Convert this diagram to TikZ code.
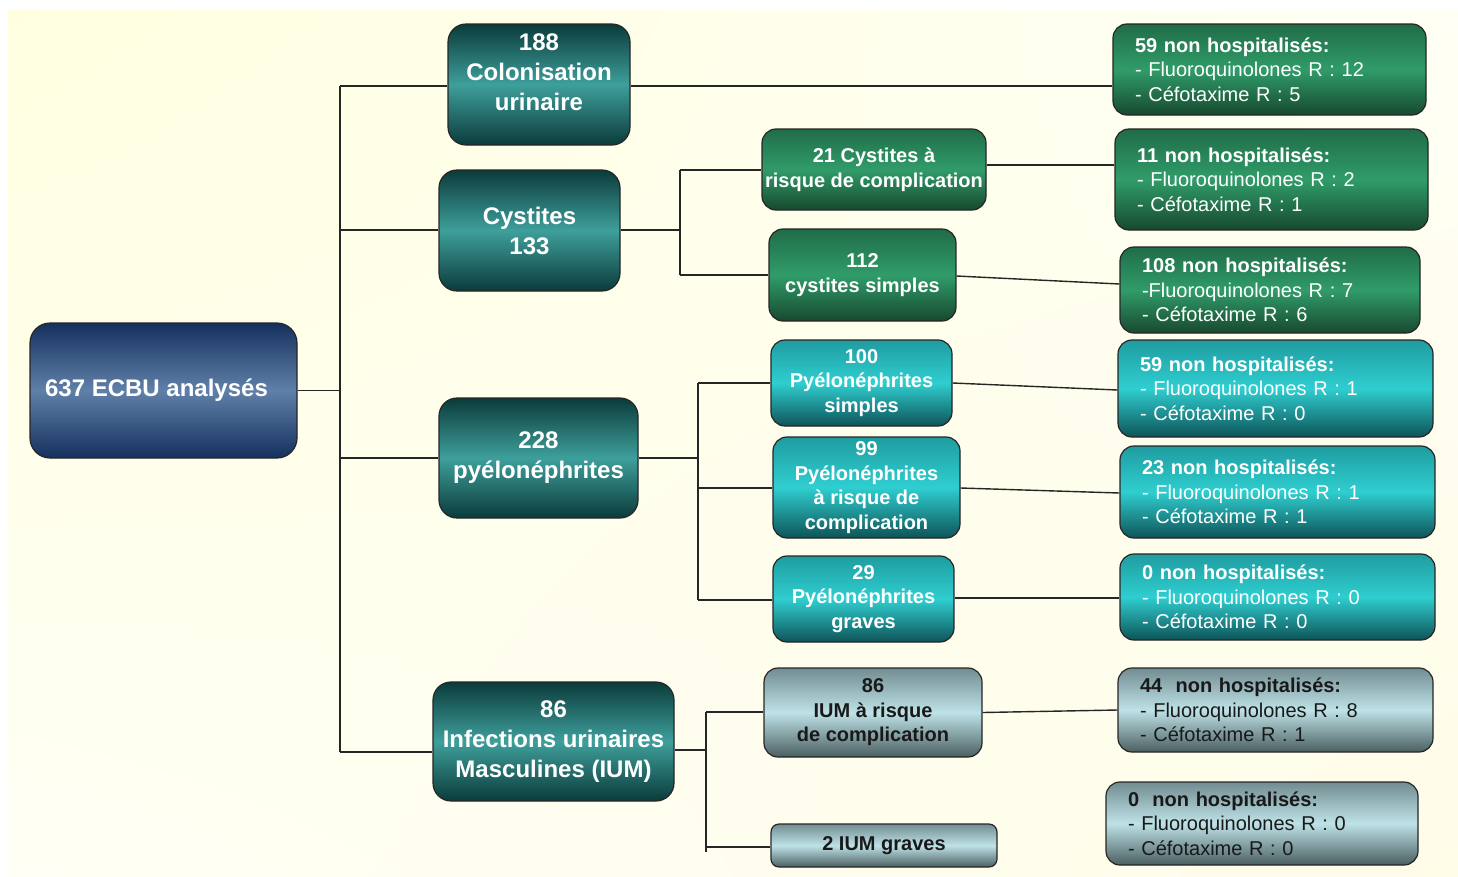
\documentclass[tikz,border=0pt]{standalone}
\usepackage{fontspec}
\usetikzlibrary{shadings}
\setmainfont{Liberation Sans}
\definecolor{navyD}{HTML}{15305E}
\definecolor{navyL}{HTML}{5F80A8}
\definecolor{tealD}{HTML}{0B3B3B}
\definecolor{tealL}{HTML}{3E9F9B}
\definecolor{grnD}{HTML}{17492F}
\definecolor{grnT}{HTML}{206C48}
\definecolor{grnL}{HTML}{309C69}
\definecolor{cyT}{HTML}{1F9CA0}
\definecolor{cyL}{HTML}{2FCED0}
\definecolor{cyD}{HTML}{0E5458}
\definecolor{gyT}{HTML}{728D91}
\definecolor{gyL}{HTML}{BEE2E7}
\definecolor{gyD}{HTML}{4B5F61}
\definecolor{bgA}{HTML}{FFFFE0}
\definecolor{bgB}{HTML}{FFFFF5}
\definecolor{bgC}{HTML}{FFFDE8}
\begin{document}
\begin{tikzpicture}[x=1pt,y=-1pt,
  box/.style={draw=black!85, line width=1.2pt, rounded corners=14pt, inner sep=0pt, align=center},
  navybox/.style={box, top color=navyD, bottom color=navyD, middle color=navyL, text=white, rounded corners=20pt,
    font=\fontsize{24}{30}\selectfont\bfseries},
  l1/.style={box, top color=tealD, bottom color=tealD, middle color=tealL, text=white, rounded corners=18pt,
    font=\fontsize{24}{30}\selectfont\bfseries},
  greenbox/.style={box, top color=grnT, bottom color=grnD, middle color=grnL, text=white},
  cyanbox/.style={box, top color=cyT, bottom color=cyD, middle color=cyL, text=white},
  graybox/.style={box, top color=gyT, bottom color=gyD, middle color=gyL, text=black!90},
  mid/.style={font=\fontsize{20}{24.5}\selectfont\bfseries},
  res/.style={align=left, inner xsep=22pt, inner ysep=0pt, font=\fontsize{20}{24.3}\selectfont},
  conn/.style={draw=black!85, line width=1.4pt}
]
\useasboundingbox (0,0) rectangle (1458,876);
\fill[white] (0,0) rectangle (1458,876);
\shade[upper left=bgA, upper right=bgB, lower left=bgB, lower right=bgC] (8,10) rectangle (1458,876);

% root and level 1
\node[navybox, minimum width=267pt, minimum height=135pt] (root) at (163.5,390.5) {637 ECBU analysés\hspace*{14pt}};
\node[l1, minimum width=182pt, minimum height=121pt] (col) at (539,84.5) {};
\node[text=white, font=\fontsize{24}{30}\selectfont\bfseries, align=center, inner sep=0pt] (colt) at (539,72) {188\\Colonisation\\urinaire};
\node[l1, minimum width=181pt, minimum height=121pt] (cyst) at (529.5,230.5) {Cystites\\133};
\node[l1, minimum width=199pt, minimum height=120pt] (pyelo) at (538.5,458) {228\\pyélonéphrites};
\node[l1, minimum width=241pt, minimum height=119pt] (ium) at (553.5,741.5) {86\\Infections urinaires\\Masculines (IUM)};

% level 2
\node[greenbox, mid, minimum width=224pt, minimum height=81pt] (cc) at (874,169.5) {21 Cystites à\\risque de complication};
\node[greenbox, mid, minimum width=187pt, minimum height=92pt] (cs) at (862.5,275) {112\\cystites simples};
\node[cyanbox, mid, minimum width=181pt, minimum height=86pt] (ps) at (861.5,383) {100\\Pyélonéphrites\\simples};
\node[cyanbox, mid, minimum width=187pt, minimum height=101pt] (pc) at (866.5,487.5) {99\\Pyélonéphrites\\à risque de\\complication};
\node[cyanbox, mid, minimum width=181pt, minimum height=86pt] (pg) at (863.5,599) {29\\Pyélonéphrites\\graves};
\node[graybox, mid, minimum width=218pt, minimum height=89pt] (ic) at (873,712.5) {86\\IUM à risque\\de complication};
\node[graybox, mid, minimum width=226pt, minimum height=43pt, rounded corners=8pt] (ig) at (884,845.5) {2 IUM graves};

% results
\node[greenbox, res, text width=269pt, minimum height=91pt] (r1) at (1269.5,69.5) {\textbf{59 non hospitalisés:}\\- Fluoroquinolones R : 12\\- Céfotaxime R : 5};
\node[greenbox, res, text width=269pt, minimum height=101pt] (r2) at (1271.5,179.5) {\textbf{11 non hospitalisés:}\\- Fluoroquinolones R : 2\\- Céfotaxime R : 1};
\node[greenbox, res, text width=256pt, minimum height=86pt] (r3) at (1270,290) {\textbf{108 non hospitalisés:}\\-Fluoroquinolones R : 7\\- Céfotaxime R : 6};
\node[cyanbox, res, text width=271pt, minimum height=97pt] (r4) at (1275.5,388.5) {\textbf{59 non hospitalisés:}\\- Fluoroquinolones R : 1\\- Céfotaxime R : 0};
\node[cyanbox, res, text width=271pt, minimum height=92pt] (r5) at (1277.5,492) {\textbf{23 non hospitalisés:}\\- Fluoroquinolones R : 1\\- Céfotaxime R : 1};
\node[cyanbox, res, text width=271pt, minimum height=86pt] (r6) at (1277.5,597) {\textbf{0 non hospitalisés:}\\- Fluoroquinolones R : 0\\- Céfotaxime R : 0};
\node[graybox, res, text width=271pt, minimum height=84pt] (r7) at (1275.5,710) {\textbf{44\ \ non hospitalisés:}\\- Fluoroquinolones R : 8\\- Céfotaxime R : 1};
\node[graybox, res, text width=268pt, minimum height=83pt] (r8) at (1262,823.5) {\textbf{0\ \ non hospitalisés:}\\- Fluoroquinolones R : 0\\- Céfotaxime R : 0};

% trunk
\coordinate (t0) at (340,390.5);
\coordinate (t1) at (340,86);
\coordinate (t2) at (340,230);
\coordinate (t3) at (340,458);
\coordinate (t4) at (340,752);
\draw[conn] (root.east) -- (t0);
\draw[conn] (t1) -- (t4);
\draw[conn] (t1) -- (col.west |- t1);
\draw[conn] (t2) -- (cyst.west |- t2);
\draw[conn] (t3) -- (pyelo.west |- t3);
\draw[conn] (t4) -- (ium.west |- t4);
\draw[conn] (col.east |- t1) -- (r1.west |- t1);

% cystites branch
\coordinate (c0) at (680,230);
\coordinate (c1) at (680,170);
\coordinate (c2) at (680,275);
\draw[conn] (cyst.east |- c0) -- (c0);
\draw[conn] (c1) -- (c2);
\draw[conn] (c1) -- (cc.west |- c1);
\draw[conn] (c2) -- (cs.west |- c2);
\draw[conn] ([yshift=4.5pt]cc.east) -- ([yshift=14.5pt]r2.west);
\draw[conn] ([yshift=-1pt]cs.east) -- ([yshift=6pt]r3.west);

% pyelo branch
\coordinate (p0) at (698,458);
\coordinate (p1) at (698,383);
\coordinate (p2) at (698,488);
\coordinate (p3) at (698,600);
\draw[conn] (pyelo.east |- p0) -- (p0);
\draw[conn] (p1) -- (p3);
\draw[conn] (p1) -- (ps.west |- p1);
\draw[conn] (p2) -- (pc.west |- p2);
\draw[conn] (p3) -- (pg.west |- p3);
\draw[conn] (ps.east) -- ([yshift=-1.5pt]r4.west);
\draw[conn] ([yshift=-0.5pt]pc.east) -- ([yshift=-1pt]r5.west);
\draw[conn] ([yshift=1pt]pg.east) -- (r6.west |- 0,598);

% IUM branch
\coordinate (i0) at (706,750);
\coordinate (i1) at (706,712);
\coordinate (i2) at (706,852);
\coordinate (i3) at (706,847);
\draw[conn] (ium.east |- i0) -- (i0);
\draw[conn] (i1) -- (i2);
\draw[conn] (i1) -- (ic.west |- i1);
\draw[conn] (i3) -- (ig.west |- i3);
\draw[conn] (ic.east) -- (r7.west);
\end{tikzpicture}
\end{document}
